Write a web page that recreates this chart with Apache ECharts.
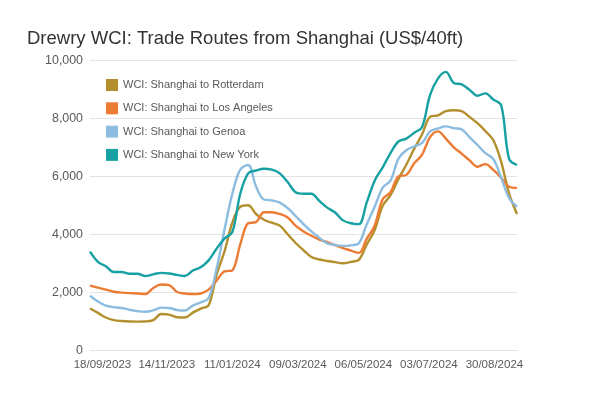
<!DOCTYPE html>
<html>
<head>
<meta charset="utf-8">
<script src="https://cdn.jsdelivr.net/npm/echarts@6/dist/echarts.min.js"></script>
<style>
  html, body { margin: 0; padding: 0; background: #fff; }
  #chart { width: 600px; height: 400px; }
</style>
</head>
<body>
<div id="chart"></div>
<script>
  // weekly readings, the first one published on 07/09/2023
  const firstWeek = '07/09/2023';
  const lastWeek = '19/09/2024';
  const tickLabels = ['18/09/2023', '14/11/2023', '11/01/2024', '09/03/2024', '06/05/2024', '03/07/2024', '30/08/2024'];
  const seriesNames = ['WCI: Shanghai to Rotterdam', 'WCI: Shanghai to Los Angeles', 'WCI: Shanghai to Genoa', 'WCI: Shanghai to New York'];

  const rotterdam = [1440, 1290, 1130, 1040, 1010, 995, 990, 995, 1040, 1250, 1230, 1140, 1130, 1300, 1440, 1550,
    2600, 3400, 4400, 4950, 5000, 4700, 4500, 4400, 4300, 4000, 3700,
    3450, 3220, 3130, 3080, 3040, 3000, 3050, 3120, 3650, 4150,
    4980, 5350, 5900, 6400, 6950, 7450, 8050, 8100, 8250, 8280, 8250, 8050, 7830, 7560, 7250, 6500, 5400, 4700];
  const losAngeles = [2230, 2160, 2090, 2020, 1990, 1970, 1960, 1940, 2150, 2270, 2250, 2010, 1960, 1940, 1960, 2090,
    2400, 2720, 2760, 3650, 4380, 4420, 4760, 4760, 4700, 4580, 4300,
    4100, 3950, 3820, 3730, 3630, 3520, 3440, 3360, 3850, 4300,
    5200, 5450, 6000, 6050, 6450, 6750, 7350, 7550, 7300, 7000, 6780, 6550, 6330, 6420, 6220, 5950, 5640, 5600];
  const genoa = [1880, 1680, 1540, 1490, 1460, 1400, 1350, 1330, 1380, 1470, 1460, 1390, 1370, 1540, 1650, 1800,
    2800, 4150, 5400, 6230, 6390, 5650, 5200, 5170, 5090, 4900, 4630,
    4350, 4100, 3880, 3690, 3630, 3600, 3620, 3690, 4350, 4950,
    5600, 5850, 6600, 6900, 7030, 7150, 7550, 7650, 7720, 7660, 7620, 7350, 7080, 6800, 6600, 5950, 5250, 4950];
  const newYork = [3400, 3050, 2900, 2700, 2700, 2640, 2640, 2560, 2620, 2670, 2650, 2600, 2560, 2750, 2860, 3100,
    3500, 3850, 4080, 5400, 6100, 6200, 6260, 6230, 6100, 5800, 5450,
    5400, 5400, 5150, 4920, 4750, 4480, 4380, 4350, 5100, 5850,
    6300, 6800, 7200, 7300, 7500, 7700, 8800, 9370, 9600, 9220, 9170, 8980, 8780, 8860, 8650, 8450, 6600, 6390];

  const colors = ['#b38f2e', '#ec7c34', '#8cbde1', '#17a1a2'];

  function parseDate(s) {
    const p = s.split('/');
    return Date.UTC(+p[2], +p[1] - 1, +p[0]);
  }
  function pad(n) { return n < 10 ? '0' + n : '' + n; }

  // x axis runs in days counted from the first reading
  const day = 86400000;
  const start = parseDate(firstWeek);
  const toDay = s => Math.round((parseDate(s) - start) / day);
  function dayLabel(n) {
    const d = new Date(start + Math.round(n) * day);
    return pad(d.getUTCDate()) + '/' + pad(d.getUTCMonth() + 1) + '/' + d.getUTCFullYear();
  }
  const pairs = arr => arr.map((v, i) => [i * 7, v]);

  const myChart = echarts.init(document.getElementById('chart'));
  myChart.setOption({
    animation: false,
    color: colors,
    textStyle: { fontFamily: 'Liberation Sans, Arial, sans-serif' },
    title: {
      text: 'Drewry WCI: Trade Routes from Shanghai (US$/40ft)',
      left: 22,
      top: 24,
      textStyle: { fontSize: 18.5, fontWeight: 'normal', color: '#333333' }
    },
    legend: {
      orient: 'vertical',
      left: 101,
      top: 74,
      icon: 'rect',
      itemWidth: 12,
      itemHeight: 12,
      itemGap: 11.3,
      data: seriesNames,
      textStyle: { fontSize: 11, color: '#595959' }
    },
    grid: { left: 90, right: 83, top: 60.3, bottom: 49.7 },
    xAxis: {
      type: 'value',
      min: 0,
      max: toDay(lastWeek),
      axisLine: { lineStyle: { color: '#e3e3e3' } },
      axisTick: { show: false },
      splitLine: { show: false },
      axisLabel: {
        customValues: tickLabels.map(toDay),
        formatter: v => dayLabel(v),
        color: '#595959',
        fontSize: 11.5,
        margin: 9,
        showMinLabel: true,
        showMaxLabel: true
      }
    },
    yAxis: {
      type: 'value',
      min: 0,
      max: 10000,
      interval: 2000,
      axisLine: { show: false },
      axisTick: { show: false },
      splitLine: { lineStyle: { color: '#e3e3e3' } },
      axisLabel: {
        color: '#595959',
        fontSize: 12.4,
        margin: 7,
        formatter: v => v.toLocaleString('en-US')
      }
    },
    series: [
      { name: seriesNames[0], type: 'line', data: pairs(rotterdam) },
      { name: seriesNames[1], type: 'line', data: pairs(losAngeles) },
      { name: seriesNames[2], type: 'line', data: pairs(genoa) },
      { name: seriesNames[3], type: 'line', data: pairs(newYork) }
    ].map(s => Object.assign(s, {
      smooth: 0.35,
      showSymbol: false,
      lineStyle: { width: 2.4 }
    }))
  });
</script>
</body>
</html>
